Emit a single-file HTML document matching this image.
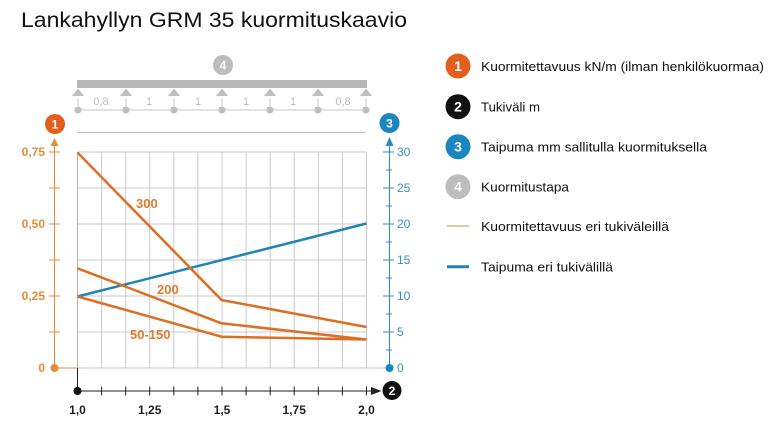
<!DOCTYPE html>
<html><head><meta charset="utf-8"><style>
html,body{margin:0;padding:0;background:#fff;}
svg{display:block;font-family:"Liberation Sans",sans-serif;}
</style></head><body>
<svg width="776" height="425" viewBox="0 0 776 425" xmlns="http://www.w3.org/2000/svg">
<rect width="776" height="425" fill="#fff"/>
<!-- Title -->
<text x="21" y="27" font-size="21" fill="#111" textLength="386" lengthAdjust="spacingAndGlyphs">Lankahyllyn GRM 35 kuormituskaavio</text>

<!-- Top schematic -->
<circle cx="223" cy="65" r="10" fill="#bdbdbd"/>
<text x="223" y="69.5" font-size="12" font-weight="bold" fill="#fff" text-anchor="middle">4</text>
<rect x="77" y="80" width="290" height="8" fill="#b8b8b8"/>
<g fill="#bdbdbd" stroke="none">
<polygon points="72,96 78,88.5 84,96"/>
<polygon points="120,96 126,88.5 132,96"/>
<polygon points="168,96 174,88.5 180,96"/>
<polygon points="216,96 222,88.5 228,96"/>
<polygon points="264,96 270,88.5 276,96"/>
<polygon points="312,96 318,88.5 324,96"/>
<polygon points="360,96 366,88.5 372,96"/>
</g>
<g stroke="#c4c4c4" stroke-width="1">
<line x1="78" y1="110" x2="366" y2="110"/>
<line x1="78" y1="99" x2="78" y2="106"/>
<line x1="126" y1="99" x2="126" y2="106"/>
<line x1="174" y1="99" x2="174" y2="106"/>
<line x1="222" y1="99" x2="222" y2="106"/>
<line x1="270" y1="99" x2="270" y2="106"/>
<line x1="318" y1="99" x2="318" y2="106"/>
<line x1="366" y1="99" x2="366" y2="106"/>
</g>
<g fill="#bdbdbd">
<circle cx="78" cy="110" r="3.5"/><circle cx="126" cy="110" r="3.5"/><circle cx="174" cy="110" r="3.5"/>
<circle cx="222" cy="110" r="3.5"/><circle cx="270" cy="110" r="3.5"/><circle cx="318" cy="110" r="3.5"/>
<circle cx="366" cy="110" r="3.5"/>
</g>
<g font-size="11" fill="#bdbdbd" text-anchor="middle">
<text x="101" y="105">0,8</text><text x="149" y="105">1</text><text x="198" y="105">1</text>
<text x="246" y="105">1</text><text x="293" y="105">1</text><text x="343" y="105">0,8</text>
</g>
<line x1="78" y1="132.5" x2="366" y2="132.5" stroke="#bdbdbd" stroke-width="1"/>

<!-- Grid -->
<g stroke="#c9c9c9" stroke-width="1">
<line x1="77.5" y1="152" x2="366.5" y2="152"/>
<line x1="77.5" y1="188" x2="366.5" y2="188"/>
<line x1="77.5" y1="224" x2="366.5" y2="224"/>
<line x1="77.5" y1="260" x2="366.5" y2="260"/>
<line x1="77.5" y1="296" x2="366.5" y2="296"/>
<line x1="77.5" y1="332" x2="366.5" y2="332"/>
<line x1="101.6" y1="152" x2="101.6" y2="368"/>
<line x1="125.7" y1="152" x2="125.7" y2="368"/>
<line x1="149.7" y1="152" x2="149.7" y2="368"/>
<line x1="173.8" y1="152" x2="173.8" y2="368"/>
<line x1="197.9" y1="152" x2="197.9" y2="368"/>
<line x1="222" y1="152" x2="222" y2="368"/>
<line x1="246.1" y1="152" x2="246.1" y2="368"/>
<line x1="270.2" y1="152" x2="270.2" y2="368"/>
<line x1="294.2" y1="152" x2="294.2" y2="368"/>
<line x1="318.3" y1="152" x2="318.3" y2="368"/>
<line x1="342.4" y1="152" x2="342.4" y2="368"/>
<line x1="366.5" y1="152" x2="366.5" y2="368"/>
</g>
<line x1="77.5" y1="368" x2="389" y2="368" stroke="#b9c9d4" stroke-width="1"/>
<line x1="54" y1="368" x2="77.5" y2="368" stroke="#e88a3c" stroke-width="1"/>
<line x1="77.5" y1="152" x2="77.5" y2="391" stroke="#222" stroke-width="1"/>
<line x1="77.5" y1="152" x2="77.5" y2="368" stroke="#b0b0b0" stroke-width="1"/>

<!-- Left axis -->
<g stroke="#e88a3c" stroke-width="1">
<line x1="54.5" y1="368" x2="54.5" y2="142"/>
<line x1="49" y1="152" x2="60" y2="152"/>
<line x1="49" y1="188" x2="60" y2="188"/>
<line x1="49" y1="224" x2="60" y2="224"/>
<line x1="49" y1="260" x2="60" y2="260"/>
<line x1="49" y1="296" x2="60" y2="296"/>
<line x1="49" y1="332" x2="60" y2="332"/>
</g>
<polygon points="50.5,146 54.5,138 58.5,146" fill="#e88a3c"/>
<circle cx="54.5" cy="368" r="4" fill="#e88a3c"/>
<circle cx="55" cy="124" r="10" fill="#e35f1e"/>
<text x="55" y="128.5" font-size="12" font-weight="bold" fill="#fff" text-anchor="middle">1</text>
<g font-size="12" font-weight="bold" fill="#e88a3c" text-anchor="end">
<text x="45" y="156">0,75</text>
<text x="45" y="228">0,50</text>
<text x="45" y="300">0,25</text>
<text x="45" y="372">0</text>
</g>

<!-- Right axis -->
<g stroke="#2a8cc4" stroke-width="1">
<line x1="389.5" y1="368" x2="389.5" y2="142"/>
<line x1="383" y1="152" x2="394" y2="152"/>
<line x1="386" y1="170" x2="392" y2="170"/>
<line x1="383" y1="188" x2="394" y2="188"/>
<line x1="386" y1="206" x2="392" y2="206"/>
<line x1="383" y1="224" x2="394" y2="224"/>
<line x1="386" y1="242" x2="392" y2="242"/>
<line x1="383" y1="260" x2="394" y2="260"/>
<line x1="386" y1="278" x2="392" y2="278"/>
<line x1="383" y1="296" x2="394" y2="296"/>
<line x1="386" y1="314" x2="392" y2="314"/>
<line x1="383" y1="332" x2="394" y2="332"/>
<line x1="386" y1="350" x2="392" y2="350"/>
</g>
<polygon points="385.5,146 389.5,137 393.5,146" fill="#2a8cc4"/>
<circle cx="389.5" cy="368" r="4" fill="#1a86c0"/>
<circle cx="389.5" cy="123" r="10" fill="#1a86c0"/>
<text x="389.5" y="127.5" font-size="12" font-weight="bold" fill="#fff" text-anchor="middle">3</text>
<g font-size="12" fill="#3a8fbf">
<text x="397" y="156">30</text>
<text x="397" y="192">25</text>
<text x="397" y="228">20</text>
<text x="397" y="264">15</text>
<text x="397" y="300">10</text>
<text x="397" y="336">5</text>
<text x="397" y="372">0</text>
</g>

<!-- Bottom axis -->
<line x1="77.5" y1="391" x2="375" y2="391" stroke="#222" stroke-width="1"/>
<g stroke="#222" stroke-width="1">
<line x1="101.6" y1="386.5" x2="101.6" y2="395.5"/>
<line x1="125.7" y1="386.5" x2="125.7" y2="395.5"/>
<line x1="149.7" y1="386.5" x2="149.7" y2="395.5"/>
<line x1="173.8" y1="386.5" x2="173.8" y2="395.5"/>
<line x1="197.9" y1="386.5" x2="197.9" y2="395.5"/>
<line x1="222" y1="386.5" x2="222" y2="395.5"/>
<line x1="246.1" y1="386.5" x2="246.1" y2="395.5"/>
<line x1="270.2" y1="386.5" x2="270.2" y2="395.5"/>
<line x1="294.2" y1="386.5" x2="294.2" y2="395.5"/>
<line x1="318.3" y1="386.5" x2="318.3" y2="395.5"/>
<line x1="342.4" y1="386.5" x2="342.4" y2="395.5"/>
<line x1="366.5" y1="386.5" x2="366.5" y2="395.5"/>
</g>
<polygon points="371,387 381.5,391 371,395" fill="#222"/>
<circle cx="77.5" cy="391" r="4" fill="#111"/>
<circle cx="392" cy="390.5" r="9.5" fill="#111"/>
<text x="392" y="395" font-size="12" font-weight="bold" fill="#fff" text-anchor="middle">2</text>
<g font-size="12" font-weight="bold" fill="#222" text-anchor="middle">
<text x="77.5" y="414">1,0</text>
<text x="149.7" y="414">1,25</text>
<text x="222" y="414">1,5</text>
<text x="294.2" y="414">1,75</text>
<text x="366.5" y="414">2,0</text>
</g>

<!-- Series -->
<g fill="none" stroke-width="2.5" stroke-linejoin="round">
<polyline points="77.5,296.5 366.5,223.5" stroke="#1f84b8"/>
<polyline points="77.5,152.5 221.5,300 366.5,327" stroke="#dd6f22"/>
<polyline points="77.5,268.3 221.5,323.3 366.5,339.5" stroke="#dd6f22"/>
<polyline points="77.5,296.5 221.5,336.7 366.5,339.5" stroke="#dd6f22"/>
</g>
<g font-size="13" font-weight="bold" fill="#e07a2e">
<text x="136" y="208">300</text>
<text x="157" y="294">200</text>
<text x="130" y="339">50-150</text>
</g>

<!-- Legend -->
<circle cx="458" cy="66" r="12.5" fill="#e35f1e"/>
<text x="458" y="71" font-size="14" font-weight="bold" fill="#fff" text-anchor="middle">1</text>
<circle cx="458" cy="106.7" r="12.5" fill="#111"/>
<text x="458" y="111.7" font-size="14" font-weight="bold" fill="#fff" text-anchor="middle">2</text>
<circle cx="458" cy="146.7" r="12.5" fill="#1a86c0"/>
<text x="458" y="151.7" font-size="14" font-weight="bold" fill="#fff" text-anchor="middle">3</text>
<circle cx="458" cy="186.7" r="12.5" fill="#bdbdbd"/>
<text x="458" y="191.7" font-size="14" font-weight="bold" fill="#fff" text-anchor="middle">4</text>
<line x1="447" y1="226" x2="469" y2="226" stroke="#e9c4a4" stroke-width="2"/>
<line x1="447" y1="266.7" x2="469" y2="266.7" stroke="#1f84b8" stroke-width="3"/>
<g font-size="13" fill="#111">
<text x="481" y="71" textLength="283" lengthAdjust="spacingAndGlyphs">Kuormitettavuus kN/m (ilman henkilökuormaa)</text>
<text x="481" y="111.5" textLength="59" lengthAdjust="spacingAndGlyphs">Tukiväli m</text>
<text x="481" y="151.5" textLength="226" lengthAdjust="spacingAndGlyphs">Taipuma mm sallitulla kuormituksella</text>
<text x="481" y="191.5" textLength="88" lengthAdjust="spacingAndGlyphs">Kuormitustapa</text>
<text x="481" y="231" textLength="188" lengthAdjust="spacingAndGlyphs">Kuormitettavuus eri tukiväleillä</text>
<text x="481" y="271.5" textLength="132" lengthAdjust="spacingAndGlyphs">Taipuma eri tukivälillä</text>
</g>
</svg>
</body></html>
